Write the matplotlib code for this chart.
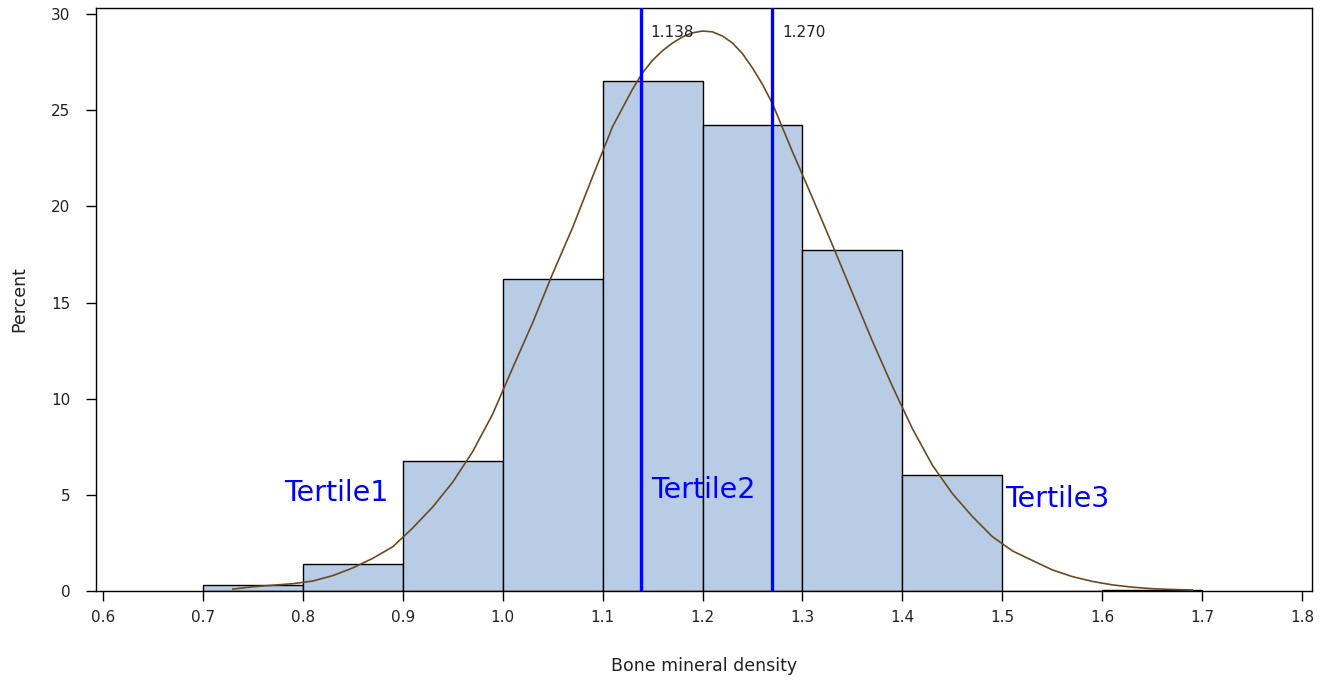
import matplotlib
matplotlib.use("Agg")
import matplotlib.pyplot as plt

# ---- data ----
bin_edges = [0.7, 0.8, 0.9, 1.0, 1.1, 1.2, 1.3, 1.4, 1.5, 1.6, 1.7]
bin_percent = [0.33, 1.42, 6.75, 16.25, 26.5, 24.25, 17.76, 6.05, 0.0, 0.06]

curve_x = [0.73, 0.75, 0.77, 0.79, 0.81, 0.83, 0.85, 0.87, 0.89, 0.91,
           0.93, 0.95, 0.97, 0.99, 1.01, 1.03, 1.05, 1.07, 1.09, 1.11,
           1.13, 1.14, 1.15, 1.16, 1.17, 1.18, 1.19, 1.20, 1.21, 1.22,
           1.23, 1.24, 1.25, 1.26, 1.27, 1.29, 1.31,
           1.33, 1.35, 1.37, 1.39, 1.41, 1.43, 1.45, 1.47, 1.49, 1.51,
           1.53, 1.55, 1.57, 1.59, 1.61, 1.63, 1.65, 1.67, 1.69]
curve_y = [0.10, 0.22, 0.30, 0.38, 0.52, 0.80, 1.20, 1.70, 2.30, 3.28,
           4.37, 5.66, 7.25, 9.20, 11.6, 13.95, 16.5, 18.9, 21.55, 24.15,
           26.1, 26.95, 27.6, 28.1, 28.5, 28.82, 29.03, 29.12, 29.08, 28.86,
           28.5, 27.95, 27.2, 26.35, 25.35, 22.85, 20.45,
           18.0, 15.5, 13.0, 10.65, 8.45, 6.55, 5.07, 3.88, 2.83, 2.09,
           1.59, 1.10, 0.75, 0.50, 0.32, 0.20, 0.12, 0.08, 0.05]

tertile_cuts = [1.138, 1.270]
cut_labels = ["1.138", "1.270"]
tertile_names = ["Tertile1", "Tertile2", "Tertile3"]
tertile_pos_x = [0.781, 1.1486, 1.503]
tertile_pos_y = [5.09, 5.24, 4.78]

xticks = [0.6, 0.7, 0.8, 0.9, 1.0, 1.1, 1.2, 1.3, 1.4, 1.5, 1.6, 1.7, 1.8]
yticks = [0, 5, 10, 15, 20, 25, 30]

# ---- figure ----
fig = plt.figure(figsize=(13.33, 6.83), dpi=100)
ax = fig.add_axes([96 / 1333, 1 - 591 / 683, (1312 - 96) / 1333, (591 - 8) / 683])

lefts = bin_edges[:-1]
widths = [b - a for a, b in zip(bin_edges[:-1], bin_edges[1:])]
ax.bar(lefts, bin_percent, width=widths, align="edge", color="#B8CDE5",
       edgecolor="black", linewidth=1.0, zorder=2)

ax.plot(curve_x, curve_y, color="#6B4A22", linewidth=1.2, zorder=3)

for xc, lab in zip(tertile_cuts, cut_labels):
    ax.axvline(xc, color="#0000FF", linewidth=2.4, zorder=4)
    ax.annotate(lab, xy=(xc, 29.05), xytext=(7, 0), textcoords="offset points",
                ha="left", va="center", fontsize=11, color="#222222", zorder=5)

for name, tx, ty in zip(tertile_names, tertile_pos_x, tertile_pos_y):
    ax.text(tx, ty, name, ha="left", va="center", fontsize=20.5,
            color="#0000FF", zorder=5)

ax.set_xlim(0.593, 1.81)
ax.set_ylim(0, 30.32)
ax.set_xticks(xticks)
ax.set_xticklabels([f"{v:.1f}" for v in xticks])
ax.set_yticks(yticks)
ax.tick_params(axis="both", direction="out", length=7.5, width=1.0,
               labelsize=11, colors="black", labelcolor="#222222")
ax.tick_params(axis="x", pad=6)
ax.tick_params(axis="y", pad=11)
for s in ax.spines.values():
    s.set_linewidth(1.0)

ax.set_xlabel("Bone mineral density", fontsize=12.5, color="#222222", labelpad=23)
ax.set_ylabel("Percent", fontsize=12.5, color="#222222", labelpad=16)

fig.savefig("out.png", dpi=100)
